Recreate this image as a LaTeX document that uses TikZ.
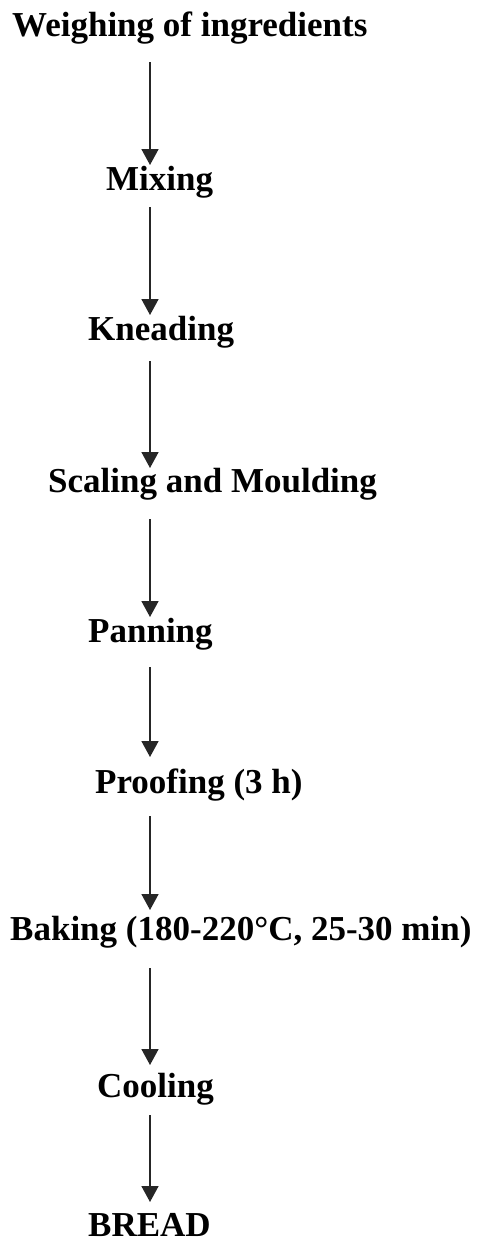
\documentclass[tikz,border=0pt]{standalone}
\usepackage{fontspec}
\setmainfont{Liberation Serif}
\usetikzlibrary{arrows.meta}
\tikzset{
  lbl/.style={anchor=base west, inner sep=0pt, font=\bfseries\fontsize{35}{42}\selectfont},
  arr/.style={draw=black!85, line width=1.6pt, -{Triangle[width=17pt,length=16pt]}}
}
\begin{document}
\begin{tikzpicture}[x=1pt,y=-1pt]
\useasboundingbox (0,0) rectangle (485,1245);
\coordinate (ax) at (150,0);
\node[lbl] (w)  at (12,36)   {Weighing of ingredients};
\node[lbl] (m)  at (106,190) {Mixing};
\node[lbl] (k)  at (88,340)  {Kneading};
\node[lbl] (s)  at (48,492)  {Scaling and Moulding};
\node[lbl] (p)  at (88,642)  {Panning};
\node[lbl] (pr) at (95,793)  {Proofing (3 h)};
\node[lbl] (b)  at (10,940)  {Baking (180-220°C, 25-30 min)};
\node[lbl] (c)  at (97,1097) {Cooling};
\node[lbl] (br) at (88,1236) {BREAD};
\draw[arr] ([yshift=-26pt]w.base -| ax) -- ([yshift=25pt]m.base -| ax);
\draw[arr] ([yshift=-17pt]m.base -| ax) -- ([yshift=25pt]k.base -| ax);
\draw[arr] ([yshift=-21pt]k.base -| ax) -- ([yshift=24pt]s.base -| ax);
\draw[arr] ([yshift=-27pt]s.base -| ax) -- ([yshift=25pt]p.base -| ax);
\draw[arr] ([yshift=-25pt]p.base -| ax) -- ([yshift=36pt]pr.base -| ax);
\draw[arr] ([yshift=-23pt]pr.base -| ax) -- ([yshift=30pt]b.base -| ax);
\draw[arr] ([yshift=-28pt]b.base -| ax) -- ([yshift=32pt]c.base -| ax);
\draw[arr] ([yshift=-18pt]c.base -| ax) -- ([yshift=34pt]br.base -| ax);
\end{tikzpicture}
\end{document}
